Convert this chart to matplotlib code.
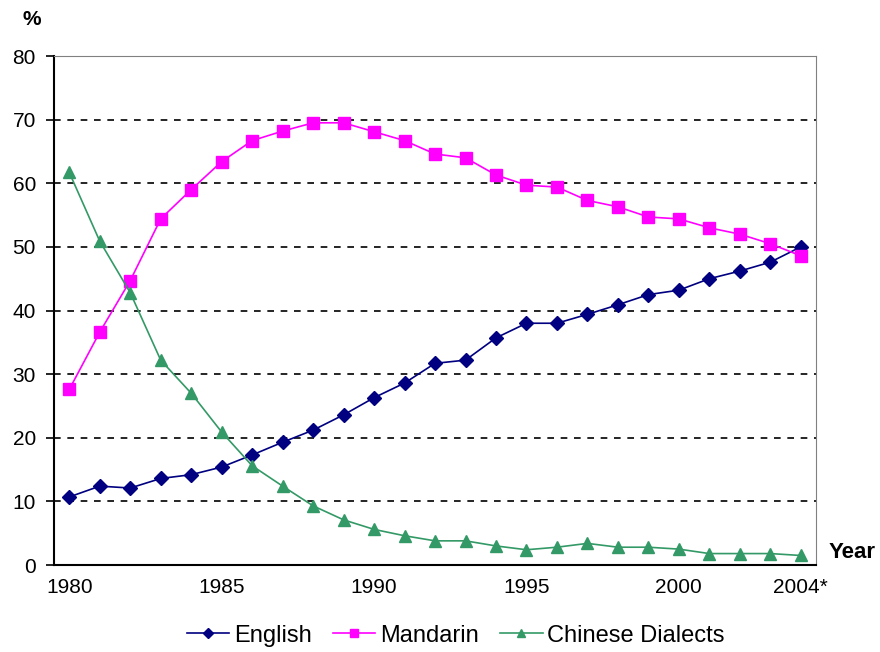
import numpy as np
import matplotlib
matplotlib.use('Agg')
import matplotlib.pyplot as plt

plt.rcParams['font.family'] = ['Liberation Sans', 'DejaVu Sans']

# data (% of households, most frequently used language)
years = list(range(1980, 2005))
english = [10.7, 12.4, 12.1, 13.6, 14.2, 15.4, 17.3, 19.3, 21.2, 23.6, 26.3, 28.6, 31.7,
           32.2, 35.7, 38.0, 38.0, 39.4, 40.9, 42.5, 43.2, 45.0, 46.2, 47.6, 50.0]
mandarin = [27.6, 36.6, 44.7, 54.4, 59.0, 63.4, 66.7, 68.2, 69.5, 69.5, 68.1, 66.7, 64.6,
            64.0, 61.3, 59.7, 59.4, 57.3, 56.3, 54.7, 54.4, 53.0, 52.0, 50.5, 48.6]
dialects = [61.7, 50.9, 42.8, 32.2, 27.0, 20.9, 15.6, 12.4, 9.3, 7.1, 5.6, 4.6, 3.8,
            3.8, 3.0, 2.4, 2.8, 3.4, 2.8, 2.8, 2.5, 1.8, 1.8, 1.8, 1.5]
tick_years = [1980, 1985, 1990, 1995, 2000, 2004]
tick_labels = ['1980', '1985', '1990', '1995', '2000', '2004*']

fig = plt.figure(figsize=(8.8, 6.52), dpi=100)
ax = fig.add_axes([0.0614, 0.1334, 0.8659, 0.7807])

ax.plot(years, english, color='#000080', marker='D', markersize=7, lw=1.2,
        label='English')
ax.plot(years, mandarin, color='#FF00FF', marker='s', markersize=8, lw=1.2,
        label='Mandarin')
ax.plot(years, dialects, color='#339966', marker='^', markersize=8, lw=1.2,
        label='Chinese Dialects')

ax.set_xlim(1979.5, 2004.5)
ax.set_ylim(0, 80)
ax.set_yticks(np.arange(0, 81, 10))
ax.set_xticks(tick_years)
ax.set_xticklabels(tick_labels)
ax.tick_params(axis='x', length=0, pad=9, labelsize=15)
ax.tick_params(axis='y', length=6, width=1.2, pad=7, labelsize=15)

# dashed grid 10..70, solid grey top at 80
for v in range(10, 80, 10):
    ax.axhline(v, color='black', lw=1.2, ls=(0, (4, 4)), zorder=0)
ax.spines['top'].set_color('#808080')
ax.spines['right'].set_color('#808080')
ax.spines['left'].set_linewidth(1.5)
ax.spines['bottom'].set_linewidth(1.5)

fig.text(0.025, 0.970, '%', fontsize=15, fontweight='bold', va='center')
fig.text(0.941, 0.152, 'Year', fontsize=16, fontweight='bold', va='center')

fig.legend(loc='center', bbox_to_anchor=(0.518, 0.025), ncol=3, frameon=False,
           fontsize=17, handlelength=1.8, handletextpad=0.2, columnspacing=0.9,
           borderpad=0, markerscale=0.8)

fig.savefig('out.png', dpi=100)
